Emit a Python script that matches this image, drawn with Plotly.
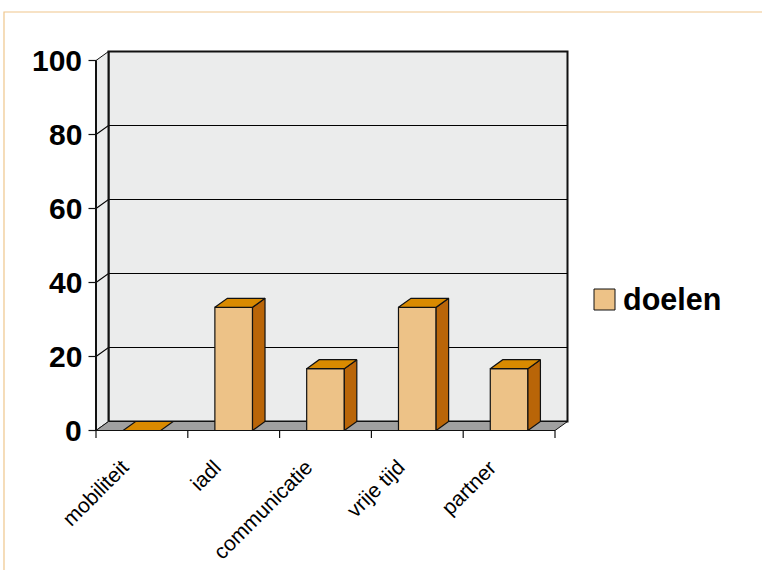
import plotly.graph_objects as go

# ---- data ----
categories = ["mobiliteit", "iadl", "communicatie", "vrije tijd", "partner"]
doelen = [0, 33.3, 16.7, 33.3, 16.7]
y_ticks = [0, 20, 40, 60, 80, 100]
series_name = "doelen"

# ---- style / geometry ----
W, H = 762, 570
AX_X_PX = 96.0      # pixel x of the front value axis
CAT_PX = 91.8       # pixel width of one category
ZERO_PX = 430.5     # pixel y of value 0
UNIT_PX = 3.7       # pixels per value unit
DX = 12.5 / CAT_PX  # depth offset (category units)
DY = 9.0 / UNIT_PX  # depth offset (value units)
BAR_W = 0.41
YMAX = 100
N = len(categories)

FONT = "Liberation Sans, Arial, Helvetica, sans-serif"
WALL = "#EBECEC"
FLOOR = "#A0A0A0"
FRONT = "#EDC287"
TOP = "#D98A00"
SIDE = "#B96508"
EDGE = "#111111"

fig = go.Figure()


def poly(xs, ys, fill, lw=1.0, lc=EDGE):
    fig.add_trace(go.Scatter(
        x=list(xs) + [xs[0]], y=list(ys) + [ys[0]], mode="lines",
        fill="toself", fillcolor=fill, line=dict(color=lc, width=lw),
        hoverinfo="skip", showlegend=False))


def lines(xs, ys, lw=1.0, lc=EDGE):
    fig.add_trace(go.Scatter(x=xs, y=ys, mode="lines",
                             line=dict(color=lc, width=lw),
                             hoverinfo="skip", showlegend=False))


# back wall
poly([DX, N + DX, N + DX, DX], [DY, DY, YMAX + DY, YMAX + DY], WALL, lw=2)
# left wall
poly([0, DX, DX, 0], [0, DY, YMAX + DY, YMAX], WALL, lw=1)
# gridlines (back wall + left wall diagonals)
gx, gy = [], []
for v in y_ticks[1:-1]:
    gx += [0, DX, N + DX, None]
    gy += [v, v + DY, v + DY, None]
lines(gx, gy, lw=1.1, lc="#000000")
# back wall left edge (thick)
lines([DX, DX], [DY, YMAX + DY], lw=2)
# floor
poly([0, N, N + DX, DX], [0, 0, DY, DY], FLOOR, lw=1)

# bars
for i, v in enumerate(doelen):
    c = i + 0.5
    l, r = c - BAR_W / 2, c + BAR_W / 2
    if v > 0:
        poly([l, r, r, l], [0, 0, v, v], FRONT, lw=1.2)
        poly([r, r + DX, r + DX, r], [0, DY, v + DY, v], SIDE, lw=1.2)
    poly([l, r, r + DX, l + DX], [v, v, v + DY, v + DY], TOP, lw=1.2)

# front axes
lines([0, 0], [0, YMAX], lw=2)
lines([0, N], [0, 0], lw=1.2)
# y tick marks
TICK_X = 7.5 / CAT_PX
tx, ty = [], []
for v in y_ticks:
    tx += [-TICK_X, 0, None]
    ty += [v, v, None]
lines(tx, ty, lw=1.2)
# x tick marks (category boundaries)
TICK_Y = 7.5 / UNIT_PX
xx, xy = [], []
for k in range(N + 1):
    xx += [k, k, None]
    xy += [0, -TICK_Y, None]
lines(xx, xy, lw=1.2)

annotations = []
for v in y_ticks:
    annotations.append(dict(
        x=-TICK_X, y=v, xref="x", yref="y", text=str(v), showarrow=False,
        xanchor="right", yanchor="middle", xshift=-5, yshift=0,
        font=dict(family=FONT, size=30, color="black", weight="bold")))
for i, name in enumerate(categories):
    annotations.append(dict(
        x=i + 0.5, y=0, xref="x", yref="y", text=name, showarrow=False,
        textangle=-45, xanchor="right", yanchor="top", xshift=-6, yshift=-22,
        font=dict(family=FONT, size=21, color="black")))
# legend text
annotations.append(dict(
    x=621 / W, y=1 - 299 / H, xref="paper", yref="paper", text=series_name,
    showarrow=False, xanchor="left", yanchor="middle",
    font=dict(family=FONT, size=30.5, color="black", weight="bold")))

shapes = [
    # outer frame
    dict(type="path", xref="paper", yref="paper",
         path=f"M {4/W} 0 L {4/W} {1-12/H} L 1.01 {1-12/H}",
         line=dict(color="#EFC68C", width=1.2)),
    # legend swatch
    dict(type="rect", xref="paper", yref="paper",
         x0=594 / W, x1=615 / W, y0=1 - 310 / H, y1=1 - 289 / H,
         fillcolor=FRONT, line=dict(color=EDGE, width=1)),
]

fig.update_layout(
    width=W, height=H, margin=dict(l=0, r=0, t=0, b=0),
    paper_bgcolor="white", plot_bgcolor="white",
    xaxis=dict(range=[-AX_X_PX / CAT_PX, (W - AX_X_PX) / CAT_PX],
               visible=False, fixedrange=True),
    yaxis=dict(range=[(ZERO_PX - H) / UNIT_PX, ZERO_PX / UNIT_PX],
               visible=False, fixedrange=True),
    annotations=annotations, shapes=shapes, showlegend=False,
)

fig.write_html("out.html")
